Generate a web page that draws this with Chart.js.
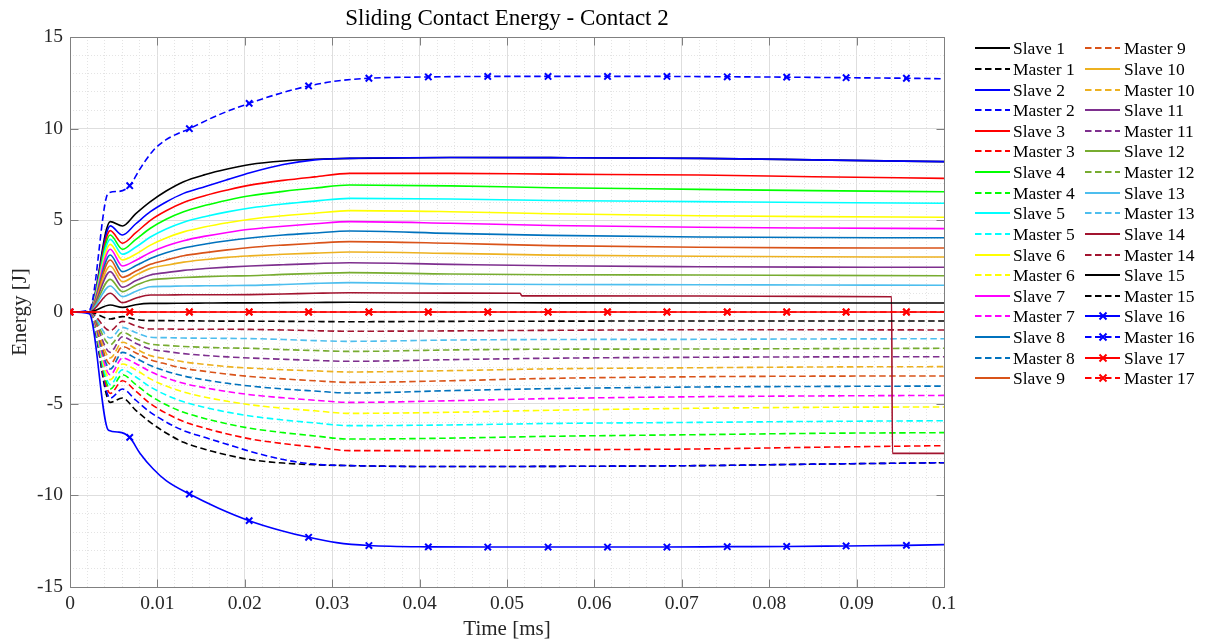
<!DOCTYPE html>
<html>
<head>
<meta charset="utf-8">
<script src="https://cdn.jsdelivr.net/npm/chart.js@4/dist/chart.umd.min.js"></script>
<style>
html,body{margin:0;padding:0;background:#fff;}
#wrap{position:relative;width:1215px;height:642px;overflow:hidden;}
#c{position:absolute;left:0;top:0;}
#legend{position:absolute;left:0;top:0;width:1215px;height:642px;pointer-events:none;font-family:"Liberation Serif","Times New Roman",serif;font-size:17.5px;color:#000;}
.item{position:absolute;height:20px;line-height:20px;white-space:nowrap;}
.item svg{position:absolute;left:0;top:0;}
.item span{position:absolute;top:0;}
</style>
</head>
<body>
<div id="wrap"><canvas id="c" width="1215" height="642"></canvas><div id="legend"></div></div>
<script>
// ---- axis ticks ----
const xTickLabels = [0, 0.01, 0.02, 0.03, 0.04, 0.05, 0.06, 0.07, 0.08, 0.09, 0.1];
const yTickLabels = [-15, -10, -5, 0, 5, 10, 15];

// ---- shared time base (ms) ----
const time = [0, 0.0022, 0.0046, 0.006, 0.0075, 0.0092, 0.011, 0.013, 0.0155, 0.018, 0.0206, 0.0244, 0.028, 0.032, 0.0435, 0.055, 0.072, 0.085, 0.1];

const slave1  = [0, 0, 4.93, 4.69, 5.35, 6.02, 6.6, 7.11, 7.5, 7.8, 8.05, 8.24, 8.33, 8.38, 8.43, 8.42, 8.38, 8.3, 8.2];
const master1 = [0, 0, -4.93, -4.69, -5.35, -6.02, -6.6, -7.11, -7.5, -7.8, -8.05, -8.24, -8.33, -8.38, -8.43, -8.42, -8.38, -8.3, -8.22];
const slave2  = [0, 0, 4.7, 4.2, 4.8, 5.47, 6.0, 6.47, 6.85, 7.22, 7.6, 8.05, 8.3, 8.38, 8.43, 8.42, 8.38, 8.3, 8.2];
const master2 = [0, 0, -4.7, -4.2, -4.8, -5.47, -6.0, -6.47, -6.85, -7.22, -7.6, -8.05, -8.3, -8.38, -8.43, -8.42, -8.38, -8.3, -8.22];
const slave3  = [0, 0, 4.44, 3.75, 4.31, 5.0, 5.52, 5.97, 6.35, 6.65, 6.92, 7.18, 7.37, 7.56, 7.56, 7.52, 7.47, 7.38, 7.29];
const master3 = [0, 0, -4.44, -3.75, -4.31, -5.0, -5.52, -5.97, -6.35, -6.65, -6.92, -7.18, -7.37, -7.56, -7.56, -7.52, -7.47, -7.38, -7.29];
const slave4  = [0, 0, 4.2, 3.42, 3.95, 4.57, 5.06, 5.47, 5.82, 6.1, 6.34, 6.58, 6.76, 6.93, 6.88, 6.78, 6.69, 6.62, 6.56];
const master4 = [0, 0, -4.2, -3.42, -3.95, -4.57, -5.06, -5.47, -5.82, -6.1, -6.34, -6.58, -6.76, -6.93, -6.88, -6.78, -6.69, -6.62, -6.58];
const slave5  = [0, 0, 3.96, 3.15, 3.53, 4.09, 4.53, 4.9, 5.21, 5.46, 5.67, 5.89, 6.05, 6.2, 6.16, 6.08, 6.02, 5.97, 5.93];
const master5 = [0, 0, -3.96, -3.15, -3.53, -4.09, -4.53, -4.9, -5.21, -5.46, -5.67, -5.89, -6.05, -6.2, -6.16, -6.08, -6.02, -5.97, -5.93];
const slave6  = [0, 0, 3.69, 2.84, 3.15, 3.65, 4.04, 4.37, 4.65, 4.87, 5.06, 5.25, 5.39, 5.53, 5.47, 5.36, 5.25, 5.2, 5.17];
const master6 = [0, 0, -3.69, -2.84, -3.15, -3.65, -4.04, -4.37, -4.65, -4.87, -5.06, -5.25, -5.39, -5.53, -5.47, -5.36, -5.25, -5.2, -5.18];
const slave7  = [0, 0, 3.42, 2.51, 2.81, 3.25, 3.6, 3.89, 4.14, 4.34, 4.51, 4.68, 4.81, 4.93, 4.84, 4.72, 4.62, 4.58, 4.55];
const master7 = [0, 0, -3.42, -2.51, -2.81, -3.25, -3.6, -3.89, -4.14, -4.34, -4.51, -4.68, -4.81, -4.93, -4.84, -4.72, -4.62, -4.58, -4.55];
const slave8  = [0, 0, 3.11, 2.2, 2.52, 2.92, 3.23, 3.49, 3.71, 3.89, 4.04, 4.2, 4.31, 4.42, 4.29, 4.18, 4.09, 4.06, 4.05];
const master8 = [0, 0, -3.11, -2.2, -2.52, -2.92, -3.23, -3.49, -3.71, -3.89, -4.04, -4.2, -4.31, -4.42, -4.29, -4.18, -4.09, -4.06, -4.04];
const slave9  = [0, 0, 2.84, 1.89, 2.22, 2.6, 2.84, 3.07, 3.24, 3.39, 3.52, 3.65, 3.75, 3.84, 3.75, 3.62, 3.53, 3.5, 3.49];
const master9 = [0, 0, -2.84, -1.89, -2.22, -2.6, -2.84, -3.07, -3.24, -3.39, -3.52, -3.65, -3.75, -3.84, -3.75, -3.62, -3.53, -3.5, -3.49];
const slave10  = [0, 0, 2.51, 1.65, 2.0, 2.38, 2.55, 2.72, 2.86, 2.98, 3.06, 3.15, 3.21, 3.27, 3.2, 3.1, 3.04, 3.01, 3.0];
const master10 = [0, 0, -2.51, -1.65, -2.0, -2.38, -2.55, -2.72, -2.86, -2.98, -3.06, -3.15, -3.21, -3.27, -3.2, -3.1, -3.04, -3.0, -2.98];
const slave11  = [0, 0, 2.2, 1.35, 1.7, 2.02, 2.15, 2.27, 2.37, 2.45, 2.51, 2.58, 2.64, 2.69, 2.6, 2.52, 2.47, 2.45, 2.44];
const master11 = [0, 0, -2.2, -1.35, -1.7, -2.02, -2.15, -2.27, -2.37, -2.45, -2.51, -2.58, -2.64, -2.69, -2.6, -2.52, -2.47, -2.45, -2.44];
const slave12  = [0, 0, 1.78, 1.11, 1.45, 1.75, 1.82, 1.88, 1.93, 1.96, 1.98, 2.05, 2.1, 2.15, 2.07, 2.03, 2.02, 2.0, 1.98];
const master12 = [0, 0, -1.78, -1.11, -1.45, -1.75, -1.82, -1.88, -1.93, -1.96, -1.98, -2.05, -2.1, -2.15, -2.07, -2.03, -2.02, -2.0, -1.98];
const slave13  = [0, 0, 1.42, 0.84, 1.12, 1.38, 1.4, 1.42, 1.43, 1.44, 1.45, 1.5, 1.56, 1.6, 1.53, 1.5, 1.49, 1.47, 1.46];
const master13 = [0, 0, -1.42, -0.84, -1.12, -1.38, -1.4, -1.42, -1.43, -1.44, -1.45, -1.5, -1.56, -1.6, -1.53, -1.5, -1.49, -1.47, -1.46];
const master14 = [0, 0, -1.02, -0.51, -0.75, -0.93, -0.93, -0.94, -0.94, -0.94, -0.95, -0.98, -1.02, -1.05, -1.03, -1.0, -0.97, -0.97, -0.98];
const slave15  = [0, 0, 0.38, 0.25, 0.4, 0.47, 0.47, 0.48, 0.49, 0.5, 0.5, 0.51, 0.52, 0.53, 0.51, 0.5, 0.49, 0.49, 0.49];
const master15 = [0, 0, -0.38, -0.25, -0.4, -0.47, -0.47, -0.48, -0.49, -0.5, -0.5, -0.51, -0.52, -0.53, -0.51, -0.5, -0.49, -0.49, -0.49];

// Slave 14 has two steps
const time14  = [0, 0.0022, 0.0046, 0.006, 0.0075, 0.0092, 0.011, 0.013, 0.0155, 0.018, 0.0206, 0.0244, 0.028, 0.032, 0.0435, 0.0515, 0.0517, 0.072, 0.085, 0.094, 0.0941, 0.1];
const slave14 = [0, 0, 1.02, 0.51, 0.75, 0.93, 0.93, 0.94, 0.94, 0.94, 0.95, 0.98, 1.02, 1.05, 1.03, 1.02, 0.88, 0.87, 0.85, 0.83, -7.71, -7.71];

// pair 16 (markers)
const time16   = [0, 0.0022, 0.0044, 0.0056, 0.00683, 0.008, 0.0095, 0.011, 0.01366, 0.017, 0.0205, 0.024, 0.0273, 0.0305, 0.0342, 0.041, 0.0478, 0.0547, 0.0615, 0.0683, 0.0752, 0.082, 0.0888, 0.0957, 0.1];
const slave16  = [0, -0.1, -6.45, -6.55, -6.84, -7.7, -8.55, -9.2, -9.93, -10.7, -11.38, -11.9, -12.29, -12.58, -12.74, -12.81, -12.82, -12.82, -12.82, -12.82, -12.8, -12.79, -12.76, -12.73, -12.69];
const master16 = [0, 0.1, 6.5, 6.58, 6.89, 7.8, 8.8, 9.4, 10.0, 10.75, 11.38, 11.92, 12.33, 12.6, 12.75, 12.82, 12.85, 12.85, 12.85, 12.85, 12.83, 12.81, 12.78, 12.75, 12.72];

// pair 17 (markers)
const time17   = [0, 0.00683, 0.01366, 0.0205, 0.0273, 0.0342, 0.041, 0.0478, 0.0547, 0.0615, 0.0683, 0.0752, 0.082, 0.0888, 0.0957, 0.1];
const slave17  = [0, 0, 0, 0, 0, 0, 0, 0, 0, 0, 0, 0, 0, 0, 0, 0];
const master17 = [0, 0, 0, 0, 0, 0, 0, 0, 0, 0, 0, 0, 0, 0, 0, 0];

const markerTimes = [0, 0.00683, 0.01366, 0.0205, 0.0273, 0.0342, 0.041, 0.0478, 0.0547, 0.0615, 0.0683, 0.0752, 0.082, 0.0888, 0.0957];

const pairColors = ['#000000','#0000ff','#ff0000','#00ff00','#00ffff','#ffff00','#ff00ff','#0072bd','#d95319','#edb120','#7e2f8e','#77ac30','#4dbeee','#a2142f','#000000','#0000ff','#ff0000'];

// ---- series table ----
const series = [
  ['Slave 1', time, slave1], ['Master 1', time, master1],
  ['Slave 2', time, slave2], ['Master 2', time, master2],
  ['Slave 3', time, slave3], ['Master 3', time, master3],
  ['Slave 4', time, slave4], ['Master 4', time, master4],
  ['Slave 5', time, slave5], ['Master 5', time, master5],
  ['Slave 6', time, slave6], ['Master 6', time, master6],
  ['Slave 7', time, slave7], ['Master 7', time, master7],
  ['Slave 8', time, slave8], ['Master 8', time, master8],
  ['Slave 9', time, slave9], ['Master 9', time, master9],
  ['Slave 10', time, slave10], ['Master 10', time, master10],
  ['Slave 11', time, slave11], ['Master 11', time, master11],
  ['Slave 12', time, slave12], ['Master 12', time, master12],
  ['Slave 13', time, slave13], ['Master 13', time, master13],
  ['Slave 14', time14, slave14], ['Master 14', time, master14],
  ['Slave 15', time, slave15], ['Master 15', time, master15],
  ['Slave 16', time16, slave16], ['Master 16', time16, master16],
  ['Slave 17', time17, slave17], ['Master 17', time17, master17]
].map(([name, t, v], i) => ({
  name, t, v,
  color: pairColors[Math.floor(i / 2)],
  dashed: i % 2 === 1,
  marker: i >= 30
}));

const DASH = [6.5, 3.5];
const isMarker = (x) => markerTimes.some(m => Math.abs(m - x) < 1e-9);

const datasets = series.map((s, i) => ({
  label: s.name,
  data: s.t.map((x, k) => ({x: x, y: s.v[k]})),
  borderColor: s.color,
  backgroundColor: s.color,
  borderWidth: 1.6,
  borderDash: s.dashed ? DASH : [],
  cubicInterpolationMode: 'monotone',
  pointStyle: 'crossRot',
  pointRadius: s.marker ? (c => (c.raw && isMarker(c.raw.x)) ? 4.5 : 0) : 0,
  pointBorderWidth: 2,
  pointHoverRadius: 0,
  order: series.length - i
}));

const isMajorX = v => Math.abs(v / 0.01 - Math.round(v / 0.01)) < 1e-6;
const isMajorY = v => Math.abs(v / 5 - Math.round(v / 5)) < 1e-6;

const TXT = '#262626';
const FONT = '"Liberation Serif", "Times New Roman", serif';

const boxPlugin = {
  id: 'axesBox',
  beforeDatasetsDraw(chart) {
    const {ctx, chartArea: a, scales} = chart;
    const x = scales.x, y = scales.y;
    ctx.save();
    ctx.strokeStyle = '#808080';
    ctx.lineWidth = 1;
    const L = Math.round(a.left) + 0.5, R = Math.round(a.right) + 0.5;
    const T = Math.round(a.top) + 0.5, B = Math.round(a.bottom) + 0.5;
    ctx.beginPath();
    ctx.rect(L, T, R - L, B - T);
    const tl = 8;
    xTickLabels.forEach(v => {
      const p = Math.round(x.getPixelForValue(v)) + 0.5;
      ctx.moveTo(p, B); ctx.lineTo(p, B - tl);
      ctx.moveTo(p, T); ctx.lineTo(p, T + tl);
    });
    yTickLabels.forEach(v => {
      const p = Math.round(y.getPixelForValue(v)) + 0.5;
      ctx.moveTo(L, p); ctx.lineTo(L + tl, p);
      ctx.moveTo(R, p); ctx.lineTo(R - tl, p);
    });
    ctx.stroke();
    ctx.restore();
  }
};

new Chart(document.getElementById('c'), {
  type: 'line',
  data: { datasets },
  plugins: [boxPlugin],
  options: {
    responsive: false,
    animation: false,
    events: [],
    layout: { padding: { left: 0, right: 271, top: 0, bottom: 0 } },
    plugins: {
      legend: { display: false },
      tooltip: { enabled: false },
      title: {
        display: true,
        text: 'Sliding Contact Energy - Contact 2',
        fullSize: false,
        color: '#000',
        font: { family: FONT, size: 23, weight: 'normal' },
        padding: { top: 5, bottom: 4.4 }
      }
    },
    scales: {
      x: {
        type: 'linear',
        min: 0, max: 0.1,
        afterFit: s => { s.height = 55; },
        ticks: {
          stepSize: 0.002,
          autoSkip: false,
          maxRotation: 0,
          padding: 5,
          color: TXT,
          font: { family: FONT, size: 19.5 },
          callback: v => isMajorX(v) ? String(+v.toFixed(2)) : ''
        },
        grid: {
          drawTicks: false,
          lineWidth: 1,
          color: c => (c.tick && isMajorX(c.tick.value)) ? '#dedede' : '#e4e4e4'
        },
        border: {
          display: false,
          dash: c => (c.tick && !isMajorX(c.tick.value)) ? [1, 2] : []
        },
        title: {
          display: true,
          text: 'Time [ms]',
          color: TXT,
          font: { family: FONT, size: 21 },
          padding: { top: 0, bottom: 0 }
        }
      },
      y: {
        min: -15, max: 15,
        afterFit: s => { s.width = 70; },
        ticks: {
          stepSize: 1,
          autoSkip: false,
          padding: 7,
          color: TXT,
          font: { family: FONT, size: 19.5 },
          callback: v => isMajorY(v) ? String(Math.round(v)) : ''
        },
        grid: {
          drawTicks: false,
          lineWidth: 1,
          color: c => (c.tick && isMajorY(c.tick.value)) ? '#dedede' : '#e4e4e4'
        },
        border: {
          display: false,
          dash: c => (c.tick && !isMajorY(c.tick.value)) ? [1, 2] : []
        },
        title: {
          display: true,
          text: 'Energy [J]',
          color: TXT,
          font: { family: FONT, size: 21 },
          padding: { top: 8, bottom: 0 }
        }
      }
    }
  }
});

// ---- legend (two columns, HTML text) ----
const leg = document.getElementById('legend');
const svgNS = 'http://www.w3.org/2000/svg';
series.forEach((s, i) => {
  const col = Math.floor(i / 17), row = i % 17;
  const x0 = col ? 1085 : 975;
  const yc = 48.3 + row * 20.63;
  const item = document.createElement('div');
  item.className = 'item';
  item.style.left = x0 + 'px';
  item.style.top = (yc - 10) + 'px';
  const svg = document.createElementNS(svgNS, 'svg');
  svg.setAttribute('width', '36'); svg.setAttribute('height', '20');
  const ln = document.createElementNS(svgNS, 'line');
  ln.setAttribute('x1', '0'); ln.setAttribute('y1', '10');
  ln.setAttribute('x2', '35'); ln.setAttribute('y2', '10');
  ln.setAttribute('stroke', s.color); ln.setAttribute('stroke-width', '2');
  if (s.dashed) ln.setAttribute('stroke-dasharray', DASH.join(','));
  svg.appendChild(ln);
  if (s.marker) {
    const mk = document.createElementNS(svgNS, 'path');
    mk.setAttribute('d', 'M14.5 6.5 L21.5 13.5 M21.5 6.5 L14.5 13.5');
    mk.setAttribute('stroke', s.color); mk.setAttribute('stroke-width', '2');
    svg.appendChild(mk);
  }
  item.appendChild(svg);
  const sp = document.createElement('span');
  sp.style.left = (col ? 39 : 38) + 'px';
  sp.textContent = s.name;
  item.appendChild(sp);
  leg.appendChild(item);
});
</script>
</body>
</html>
